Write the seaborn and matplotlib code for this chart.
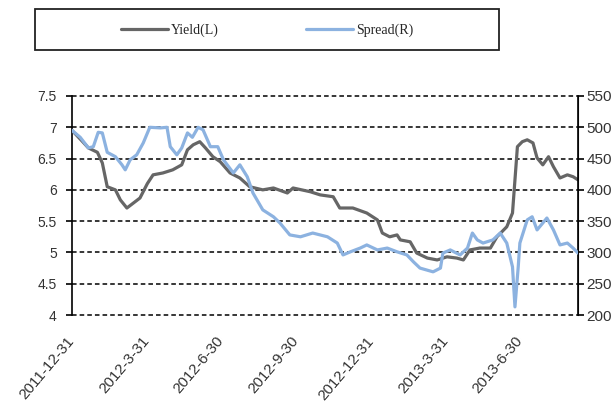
import numpy as np
import pandas as pd
import matplotlib
matplotlib.use("Agg")
import matplotlib.pyplot as plt
from matplotlib.patches import Rectangle
import seaborn as sns

# -----------------------------
# Data
# -----------------------------
yield_dates = [
    "2011-12-31", "2012-01-13", "2012-01-20", "2012-01-31", "2012-02-06", "2012-02-12",
    "2012-02-22", "2012-02-28", "2012-03-07", "2012-03-15", "2012-03-23", "2012-04-01",
    "2012-04-08", "2012-04-20", "2012-05-02", "2012-05-13", "2012-05-20", "2012-05-27",
    "2012-06-04", "2012-06-11", "2012-06-20", "2012-06-29", "2012-07-11", "2012-07-23",
    "2012-08-04", "2012-08-20", "2012-09-02", "2012-09-19", "2012-09-26", "2012-10-17",
    "2012-10-29", "2012-11-14", "2012-11-22", "2012-12-08", "2012-12-25", "2013-01-07",
    "2013-01-13", "2013-01-22", "2013-01-31", "2013-02-04", "2013-02-16", "2013-02-24",
    "2013-03-09", "2013-03-21", "2013-04-02", "2013-04-14", "2013-04-22", "2013-04-30",
    "2013-05-12", "2013-05-25", "2013-06-02", "2013-06-14", "2013-06-21", "2013-06-24",
    "2013-06-27", "2013-07-03", "2013-07-09", "2013-07-16", "2013-07-21", "2013-07-28",
    "2013-08-04", "2013-08-10", "2013-08-18", "2013-08-27", "2013-09-03", "2013-09-09",
]
yield_vals = [
    6.95, 6.77, 6.67, 6.60, 6.43, 6.05,
    6.00, 5.84, 5.71, 5.79, 5.87, 6.10,
    6.24, 6.27, 6.32, 6.40, 6.64, 6.72,
    6.77, 6.67, 6.53, 6.45, 6.27, 6.19,
    6.05, 6.00, 6.03, 5.95, 6.03, 5.97,
    5.92, 5.89, 5.71, 5.71, 5.63, 5.52,
    5.31, 5.25, 5.28, 5.20, 5.17, 4.99,
    4.91, 4.88, 4.93, 4.91, 4.88, 5.04,
    5.07, 5.07, 5.25, 5.41, 5.63, 6.16,
    6.69, 6.77, 6.80, 6.75, 6.51, 6.40,
    6.53, 6.37, 6.19, 6.24, 6.21, 6.16,
]

spread_dates = [
    "2011-12-31", "2012-01-10", "2012-01-20", "2012-01-26", "2012-02-01", "2012-02-06",
    "2012-02-12", "2012-02-22", "2012-03-01", "2012-03-05", "2012-03-11", "2012-03-19",
    "2012-03-27", "2012-04-04", "2012-04-17", "2012-04-25", "2012-04-29", "2012-05-07",
    "2012-05-13", "2012-05-20", "2012-05-26", "2012-06-02", "2012-06-08", "2012-06-17",
    "2012-06-26", "2012-07-03", "2012-07-15", "2012-07-23", "2012-08-01", "2012-08-08",
    "2012-08-20", "2012-09-02", "2012-09-10", "2012-09-22", "2012-10-05", "2012-10-20",
    "2012-11-07", "2012-11-19", "2012-11-26", "2012-12-05", "2012-12-17", "2012-12-25",
    "2013-01-07", "2013-01-19", "2013-01-31", "2013-02-12", "2013-02-20", "2013-02-28",
    "2013-03-16", "2013-03-25", "2013-03-28", "2013-04-06", "2013-04-18", "2013-04-27",
    "2013-05-03", "2013-05-09", "2013-05-16", "2013-05-28", "2013-06-06", "2013-06-14",
    "2013-06-21", "2013-06-24", "2013-06-28", "2013-06-30", "2013-07-09", "2013-07-15",
    "2013-07-21", "2013-07-28", "2013-08-02", "2013-08-10", "2013-08-18", "2013-08-27",
    "2013-09-03", "2013-09-09",
]
spread_vals = [
    495, 484, 467, 469, 492, 491,
    460, 453, 440, 432, 448, 456,
    475, 500, 499, 500, 469, 456,
    467, 491, 484, 500, 496, 469,
    469, 448, 427, 440, 421, 395,
    368, 357, 347, 328, 325, 331,
    325, 315, 296, 301, 307, 312,
    304, 307, 301, 296, 285, 275,
    269, 275, 299, 304, 296, 307,
    331, 320, 315, 320, 331, 315,
    277, 213, 277, 315, 352, 357,
    336, 347, 355, 336, 312, 315,
    307, 299,
]

tick_labels = ["2011-12-31", "2012-3-31", "2012-6-30", "2012-9-30",
               "2012-12-31", "2013-3-31", "2013-6-30"]
left_ticks = [4, 4.5, 5, 5.5, 6, 6.5, 7, 7.5]
right_ticks = [200, 250, 300, 350, 400, 450, 500, 550]

df_yield = pd.DataFrame({"date": pd.to_datetime(yield_dates), "value": yield_vals})
df_spread = pd.DataFrame({"date": pd.to_datetime(spread_dates), "value": spread_vals})

# -----------------------------
# Plot
# -----------------------------
sns.set_style("white")
plt.rcParams["font.family"] = ["Liberation Sans", "DejaVu Sans"]

YIELD_COLOR = "#666666"
SPREAD_COLOR = "#8cb2e0"

fig = plt.figure(figsize=(6.13, 4.12), dpi=100)
ax = fig.add_axes([0.1175, 0.2354, 0.8254, 0.5316])
ax2 = ax.twinx()

sns.lineplot(data=df_yield, x="date", y="value", ax=ax, color=YIELD_COLOR,
             linewidth=2.3, label="Yield(L)", legend=False, zorder=3)
sns.lineplot(data=df_spread, x="date", y="value", ax=ax2, color=SPREAD_COLOR,
             linewidth=2.3, label="Spread(R)", legend=False, zorder=3)

ax.set_ylim(4, 7.5)
ax2.set_ylim(200, 550)
ax.set_xlim(pd.Timestamp("2011-12-31"), pd.Timestamp("2013-09-09"))
ax.set_yticks(left_ticks)
ax.set_yticklabels([f"{t:g}" for t in left_ticks], fontsize=10, color="#333333")
ax2.set_yticks(right_ticks)
ax2.set_yticklabels([str(t) for t in right_ticks], fontsize=11, color="#333333",
                    family=["Liberation Sans Narrow", "Liberation Sans", "DejaVu Sans"])

ax.set_xticks(pd.to_datetime(tick_labels))
ax.set_xticklabels(tick_labels, rotation=50, ha="right", va="center",
                   rotation_mode="anchor", fontsize=11, color="#333333")
ax.set_xlabel("")
ax.set_ylabel("")
ax2.set_ylabel("")

# dashed horizontal grid
for t in left_ticks:
    ax.axhline(t, color="black", linestyle=(0, (3, 2)), linewidth=1.1, zorder=1,
               clip_on=False)

for a in (ax, ax2):
    a.spines["top"].set_visible(False)
    a.spines["bottom"].set_visible(False)
ax.spines["left"].set_color("black")
ax.spines["left"].set_linewidth(1.2)
ax2.spines["right"].set_color("black")
ax2.spines["right"].set_linewidth(1.2)
ax2.spines["left"].set_visible(False)

ax.tick_params(axis="y", which="major", length=4, width=1.2, direction="out",
               left=True, color="black", pad=7)
ax2.tick_params(axis="y", which="major", length=4, width=1.2, direction="out",
                right=True, color="black", pad=2)
ax.tick_params(axis="x", length=0, pad=17)

# legend box
fig.patches.append(Rectangle((35 / 613, 1 - 50 / 412), 464 / 613, 41 / 412,
                             transform=fig.transFigure, fill=False,
                             edgecolor="#222222", linewidth=1.3))
h1, l1 = ax.get_legend_handles_labels()
h2, l2 = ax2.get_legend_handles_labels()
fig.legend(h1 + h2, l1 + l2, loc="center", bbox_to_anchor=(267 / 613, 1 - 30 / 412),
           ncol=2, frameon=False, handlelength=3.4, handletextpad=0.2,
           columnspacing=6.3, prop={"family": ["Liberation Serif", "DejaVu Serif"], "size": 10})

fig.savefig("out.png", dpi=100)
plt.close(fig)
